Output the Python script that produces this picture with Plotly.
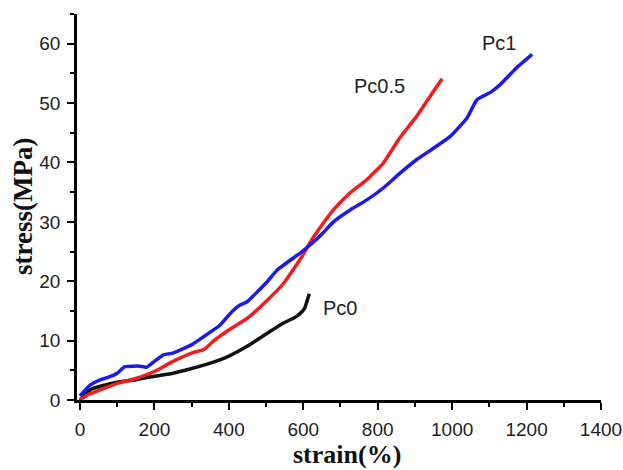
import plotly.graph_objects as go

pc0_x = [0, 30, 60, 100, 150, 200, 250, 300, 350, 400, 448, 500, 548, 580, 597, 604, 616]
pc0_y = [0, 1.8, 2.4, 3.0, 3.4, 4.0, 4.5, 5.3, 6.2, 7.4, 9.0, 11.1, 13.0, 14.0, 14.9, 15.5, 17.9]

pc05_x = [0, 25, 54, 100, 143, 200, 250, 300, 333, 360, 400, 448, 500, 548, 597, 618, 645, 681, 726, 771, 815, 860, 905, 950, 973]
pc05_y = [0, 1.0, 1.7, 2.8, 3.5, 4.8, 6.5, 7.9, 8.5, 10.0, 11.8, 13.7, 16.6, 19.7, 24.2, 26.5, 29.0, 32.0, 34.9, 37.1, 39.9, 44.2, 47.8, 52.0, 54.1]

pc1_x = [0, 27, 54, 75, 100, 120, 143, 161, 179, 200, 224, 250, 300, 333, 376, 410, 430, 448, 500, 530, 597, 645, 681, 726, 771, 815, 860, 905, 950, 995, 1040, 1067, 1103, 1129, 1174, 1215]
pc1_y = [0.7, 2.5, 3.4, 3.8, 4.5, 5.6, 5.7, 5.7, 5.5, 6.5, 7.6, 7.9, 9.3, 10.7, 12.6, 15.0, 16.0, 16.5, 19.7, 21.9, 25.0, 27.6, 30.0, 32.0, 33.7, 35.7, 38.2, 40.5, 42.4, 44.4, 47.5, 50.6, 51.8, 53.1, 56.0, 58.2]

labels = ["Pc0", "Pc0.5", "Pc1"]
label_x = [699, 806, 1126]
label_y = [15.5, 52.8, 60.2]

x_title = "strain(%)"
y_title = "stress(MPa)"

fig = go.Figure()
for xs, ys, c in [(pc0_x, pc0_y, "#111111"), (pc05_x, pc05_y, "#f21c1c"), (pc1_x, pc1_y, "#1a1aee")]:
    fig.add_trace(go.Scatter(x=xs, y=ys, mode="lines", line=dict(color=c, width=3.5, shape="spline", smoothing=0.4), showlegend=False))

for t, lx, ly in zip(labels, label_x, label_y):
    fig.add_annotation(x=lx, y=ly, text=t, showarrow=False, font=dict(family="Liberation Sans, Arial", size=20, color="#222"))

fig.add_annotation(xref="paper", yref="paper", x=0.516, y=0, yshift=-54, yanchor="middle", xanchor="center",
                   text="<b>" + x_title + "</b>", showarrow=False, borderpad=0,
                   font=dict(family="Liberation Serif, Times New Roman", size=26, color="#111"))
fig.add_annotation(xref="paper", yref="paper", x=0, y=0.5, xshift=-54, xanchor="center", yanchor="middle",
                   textangle=-90, text="<b>" + y_title + "</b>", showarrow=False, borderpad=0,
                   font=dict(family="Liberation Serif, Times New Roman", size=27, color="#111"))

axis_common = dict(
    showline=True, linecolor="black", linewidth=2.5, showgrid=False, zeroline=False,
    ticks="outside", ticklen=7, tickwidth=2, tickcolor="black",
    tickfont=dict(family="Liberation Sans, Arial", size=19, color="#222"),
    ticklabelstandoff=3, automargin=False,
)
fig.update_xaxes(range=[-8, 1400], tickvals=[0, 200, 400, 600, 800, 1000, 1200, 1400],
                 minor=dict(ticks="outside", ticklen=4, tickwidth=2, tickcolor="black", dtick=100, tick0=0),
                 **axis_common)
fig.update_yaxes(range=[0, 65], tickvals=[0, 10, 20, 30, 40, 50, 60],
                 minor=dict(ticks="outside", ticklen=4, tickwidth=2, tickcolor="black", dtick=5, tick0=0),
                 **axis_common)
fig.update_layout(width=623, height=470, margin=dict(l=77, r=22, t=14, b=70),
                  plot_bgcolor="white", paper_bgcolor="white")
fig.write_html("out.html")
